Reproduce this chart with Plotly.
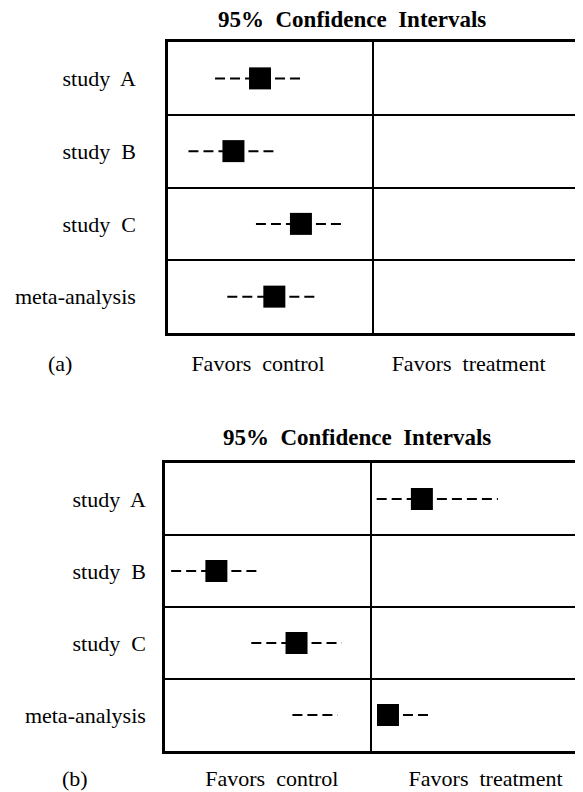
import plotly.graph_objects as go

# ---- data ----
studies = ["study  A", "study  B", "study  C", "meta-analysis"]
row_pos = [4, 3, 2, 1]

# panel (a): effect estimates and 95% CI bounds (0 = no effect)
a_est = [-0.55, -0.68, -0.35, -0.48]
a_lo = [-0.77, -0.90, -0.57, -0.71]
a_hi = [-0.33, -0.47, -0.14, -0.27]
a_left_end = [-0.55, -0.68, -0.35, -0.48]

# panel (b)
b_est = [0.25, -0.75, -0.36, 0.085]
b_lo = [0.03, -0.97, -0.58, -0.38]
b_hi = [0.62, -0.54, -0.14, 0.30]
b_left_end = [0.25, -0.75, -0.36, -0.16]

x_labels = ["Favors  control", "Favors  treatment"]
a_label_pos = [-0.56, 0.47]
b_label_pos = [-0.48, 0.56]

title_text = "95%  Confidence  Intervals"

FONT = "Liberation Serif, Times New Roman, serif"
# page body has an 8px margin; figure fills the rest of the 583x792 window
OFF = 8
W, H = 583 - OFF, 792 - OFF


def px_x(p):
    return (p - OFF) / W


def px_y(p):
    return 1 - (p - OFF) / H


fig = go.Figure()

DASH = "10px,5px"


def add_panel(xa, ya, est, lo, hi, left_end, msize):
    for i in range(len(est)):
        y = row_pos[i]
        fig.add_trace(go.Scatter(x=[lo[i], left_end[i]], y=[y, y], mode="lines",
                                 line=dict(color="black", width=2, dash=DASH),
                                 xaxis=xa, yaxis=ya, showlegend=False, hoverinfo="skip"))
        fig.add_trace(go.Scatter(x=[est[i], hi[i]], y=[y, y], mode="lines",
                                 line=dict(color="black", width=2, dash=DASH),
                                 xaxis=xa, yaxis=ya, showlegend=False, hoverinfo="skip"))
    fig.add_trace(go.Scatter(x=est, y=row_pos, mode="markers",
                             marker=dict(symbol="square", size=msize, color="black",
                                         line=dict(width=0)),
                             xaxis=xa, yaxis=ya, showlegend=False))


add_panel("x", "y", a_est, a_lo, a_hi, a_left_end, 22)
add_panel("x2", "y2", b_est, b_lo, b_hi, b_left_end, 22)


def xaxis_cfg(domain, anchor, ticks_pos, standoff):
    return dict(domain=domain, anchor=anchor, range=[-1, 1], showgrid=False,
                zeroline=True, zerolinecolor="black", zerolinewidth=2,
                showline=True, mirror=True, linecolor="black", linewidth=2.5,
                tickvals=ticks_pos, ticktext=x_labels, ticks="outside",
                ticklen=standoff, tickcolor="rgba(0,0,0,0)",
                tickfont=dict(family=FONT, size=22, color="black"), fixedrange=True)


def yaxis_cfg(domain, anchor, standoff):
    return dict(domain=domain, anchor=anchor, range=[0.5, 4.5], showgrid=False,
                zeroline=False, showline=True, mirror=True, linecolor="black",
                linewidth=2.5, tickvals=row_pos, ticktext=studies, ticks="outside",
                ticklen=standoff, tickcolor="rgba(0,0,0,0)",
                tickfont=dict(family=FONT, size=22, color="black"),
                minor=dict(tickvals=[1.5, 2.5, 3.5], showgrid=True, gridcolor="black",
                           gridwidth=1.5, ticks=""),
                fixedrange=True)


def ann(text, x, y, size=22):
    return dict(text=text, x=px_x(x), y=px_y(y), xref="paper", yref="paper",
                xanchor="center", yanchor="middle", showarrow=False,
                font=dict(family=FONT, size=size, color="black"))


fig.update_layout(
    width=W, height=H, margin=dict(l=0, r=0, t=0, b=0, autoexpand=False),
    paper_bgcolor="white", plot_bgcolor="white",
    xaxis=xaxis_cfg([px_x(168), px_x(577)], "y", a_label_pos, 9),
    yaxis=yaxis_cfg([px_y(333), px_y(42)], "x", 25),
    xaxis2=xaxis_cfg([px_x(165), px_x(576)], "y2", b_label_pos, 6),
    yaxis2=yaxis_cfg([px_y(751), px_y(463)], "x2", 12),
    annotations=[
        ann("<b>" + title_text + "</b>", 352, 20, 23),
        ann("<b>" + title_text + "</b>", 357, 437, 23),
        ann("(a)", 60, 363),
        ann("(b)", 75, 778),
    ],
)

fig.write_html("out.html")
